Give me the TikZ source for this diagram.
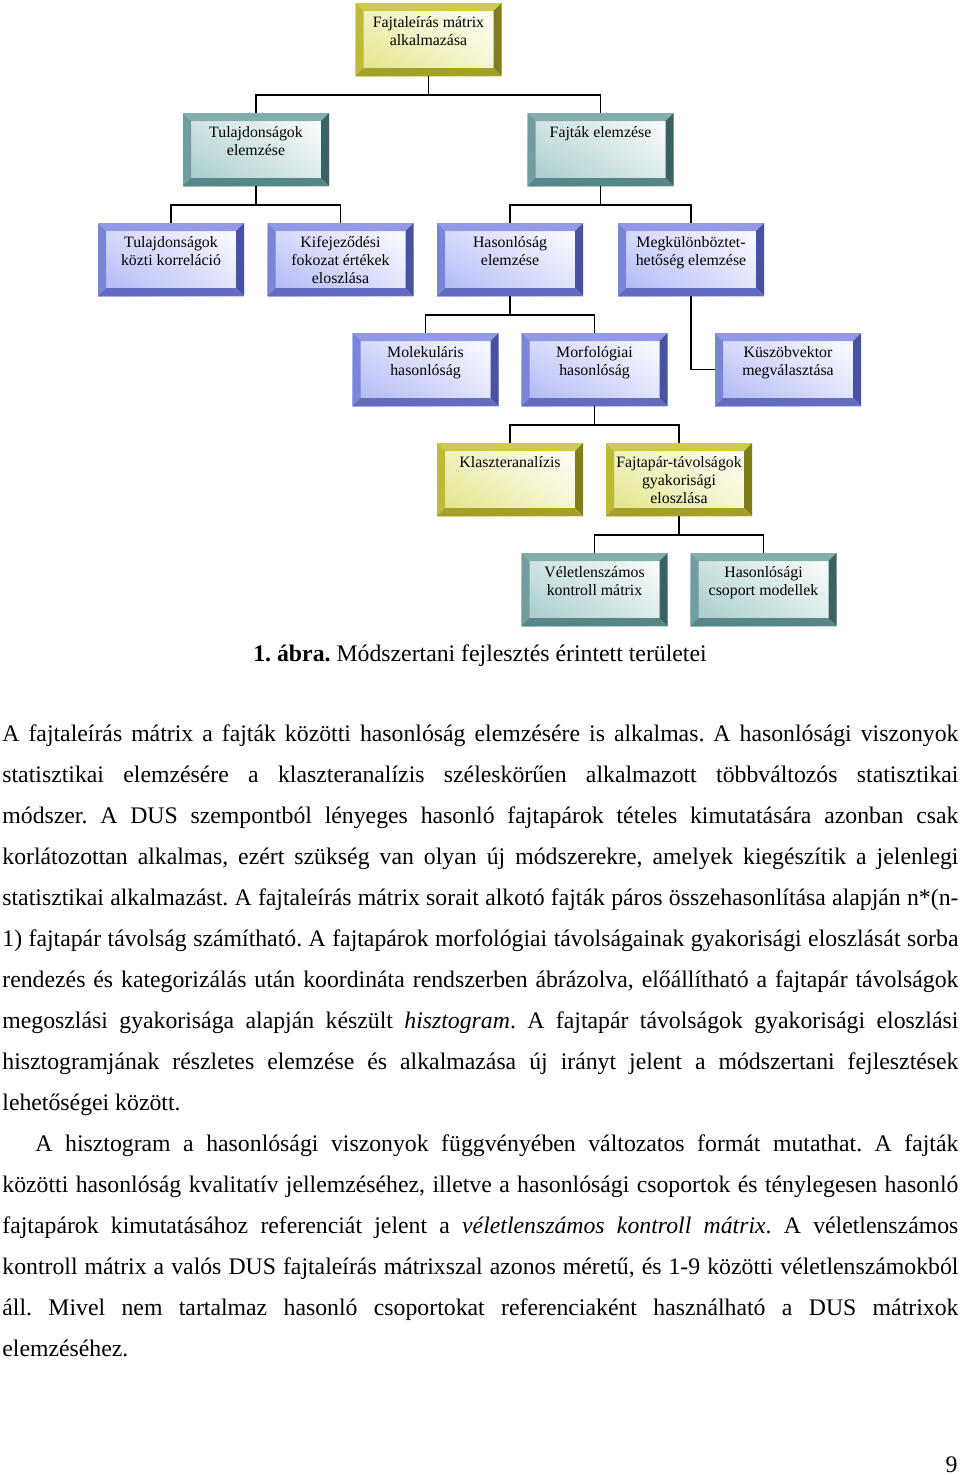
\documentclass[tikz,border=0pt]{standalone}
\usepackage{fontspec}
\setmainfont{Liberation Serif}
\usepackage{xcolor}
\usepackage{tikz}
\usetikzlibrary{shapes, positioning, shadings}
\frenchspacing

% szinek
\definecolor{yelface}{RGB}{226,226,128}
\definecolor{yeltop}{RGB}{206,204,70}
\definecolor{yelleft}{RGB}{188,186,54}
\definecolor{yelright}{RGB}{128,126,24}
\definecolor{yelbot}{RGB}{162,160,38}
\definecolor{tealface}{RGB}{158,198,198}
\definecolor{tealtop}{RGB}{130,174,174}
\definecolor{tealleft}{RGB}{112,158,158}
\definecolor{tealright}{RGB}{58,98,98}
\definecolor{tealbot}{RGB}{88,134,134}
\definecolor{blueface}{RGB}{170,178,245}
\definecolor{bluetop}{RGB}{146,154,232}
\definecolor{blueleft}{RGB}{122,132,216}
\definecolor{blueright}{RGB}{72,82,160}
\definecolor{bluebot}{RGB}{98,108,192}

\newlength{\px}
\setlength{\px}{0.505pt}
\newcommand{\bev}{4.04pt}
\newcommand{\btext}[1]{\parbox[c][57\px][t]{144\px}{\centering\rule{0pt}{8.1pt}#1}}

\tikzset{
	bevbox/.style n args={5}{
		minimum width=146\px, minimum height=73\px, inner sep=0pt, fill=white,
		font=\fontsize{8}{9.3}\selectfont,
		path picture={
			\coordinate (nw) at (path picture bounding box.north west);
			\coordinate (ne) at (path picture bounding box.north east);
			\coordinate (sw) at (path picture bounding box.south west);
			\coordinate (se) at (path picture bounding box.south east);
			\shade[lower left=#1, upper right=white, upper left=#1!45!white, lower right=#1!35!white]
				(nw) rectangle (se);
			\fill[#2] (nw) -- (ne) -- ([shift={(-\bev,-\bev)}]ne) -- ([shift={(\bev,-\bev)}]nw) -- cycle;
			\fill[#3] (nw) -- ([shift={(\bev,-\bev)}]nw) -- ([shift={(\bev,\bev)}]sw) -- (sw) -- cycle;
			\fill[#4] (ne) -- (se) -- ([shift={(-\bev,\bev)}]se) -- ([shift={(-\bev,-\bev)}]ne) -- cycle;
			\fill[#5] (sw) -- ([shift={(\bev,\bev)}]sw) -- ([shift={(-\bev,\bev)}]se) -- (se) -- cycle;
		}},
	yelbox/.style={bevbox={yelface}{yeltop}{yelleft}{yelright}{yelbot}},
	tealbox/.style={bevbox={tealface}{tealtop}{tealleft}{tealright}{tealbot}},
	bluebox/.style={bevbox={blueface}{bluetop}{blueleft}{blueright}{bluebot}},
	conn/.style={line width=1pt},
}

\begin{document}
\begin{tikzpicture}[x=0.505pt, y=-0.505pt]
	\path[fill=white] (0,0) rectangle (960,1475);

	% dobozok
	\node[yelbox]  (top)  at (428.5,39.5)  {\btext{Fajtaleírás mátrix\\alkalmazása}};
	\node[tealbox] (tul)  at (256,149.5)   {\btext{Tulajdonságok\\elemzése}};
	\node[tealbox] (faj)  at (600.5,149.5) {\btext{Fajták elemzése}};
	\node[bluebox] (kor)  at (171,259.5)   {\btext{Tulajdonságok\\közti korreláció}};
	\node[bluebox] (kif)  at (340.5,259.5) {\btext{Kifejeződési\\fokozat értékek\\eloszlása}};
	\node[bluebox] (has)  at (510,259.5)   {\btext{Hasonlóság\\elemzése}};
	\node[bluebox] (megk) at (691,259.5)   {\btext{Megkülönböztet-\\hetőség elemzése}};
	\node[bluebox] (mol)  at (425.5,369.5) {\btext{Molekuláris\\hasonlóság}};
	\node[bluebox] (mor)  at (594.5,369.5) {\btext{Morfológiai\\hasonlóság}};
	\node[bluebox] (kusz) at (788,369.5)   {\btext{Küszöbvektor\\megválasztása}};
	\node[yelbox]  (klas) at (510,479.5)   {\btext{Klaszteranalízis}};
	\node[yelbox]  (fjt)  at (679,479.5)   {\btext{Fajtapár-távolságok\\gyakorisági\\eloszlása}};
	\node[tealbox] (vel)  at (594.5,589.5) {\btext{Véletlenszámos\\kontroll mátrix}};
	\node[tealbox] (hcs)  at (763.5,589.5) {\btext{Hasonlósági\\csoport modellek}};

	% vonalak
	\draw[conn] (top.south) -- ++(0,19) -| (tul.north);
	\draw[conn] (top.south) -- ++(0,19) -| (faj.north);
	\draw[conn] (tul.south) -- ++(0,19) -| (kor.north);
	\draw[conn] (tul.south) -- ++(0,19) -| (kif.north);
	\draw[conn] (faj.south) -- ++(0,19) -| (has.north);
	\draw[conn] (faj.south) -- ++(0,19) -| (megk.north);
	\draw[conn] (has.south) -- ++(0,19) -| (mol.north);
	\draw[conn] (has.south) -- ++(0,19) -| (mor.north);
	\draw[conn] (megk.south) |- (kusz.west);
	\draw[conn] (mor.south) -- ++(0,19) -| (klas.north);
	\draw[conn] (mor.south) -- ++(0,19) -| (fjt.north);
	\draw[conn] (fjt.south) -- ++(0,19) -| (vel.north);
	\draw[conn] (fjt.south) -- ++(0,19) -| (hcs.north);

	% felirat
	\node[anchor=base, inner sep=0pt, font=\fontsize{12}{14}\selectfont] (cap) at (480,661.5)
		{\textbf{1. ábra.} Módszertani fejlesztés érintett területei};

	% szoveg
	\node[anchor=north west, inner sep=0pt, text width=482.8pt, align=justify,
		font=\fontsize{12}{20.7}\selectfont] (body) at (2,712.5) {%
		\tolerance=10000 \hyphenpenalty=10000
		\noindent\strut A fajtaleírás mátrix a fajták közötti hasonlóság elemzésére is alkalmas. A hasonlósági viszonyok\linebreak
		statisztikai elemzésére a klaszteranalízis széleskörűen alkalmazott többváltozós statisztikai\linebreak
		módszer. A DUS szempontból lényeges hasonló fajtapárok tételes kimutatására azonban csak\linebreak
		korlátozottan alkalmas, ezért szükség van olyan új módszerekre, amelyek kiegészítik a jelenlegi\linebreak
		statisztikai alkalmazást. A fajtaleírás mátrix sorait alkotó fajták páros összehasonlítása alapján n*(n-\linebreak
		1) fajtapár távolság számítható. A fajtapárok morfológiai távolságainak gyakorisági eloszlását sorba\linebreak
		rendezés és kategorizálás után koordináta rendszerben ábrázolva, előállítható a fajtapár távolságok\linebreak
		megoszlási gyakorisága alapján készült \textit{hisztogram}. A fajtapár távolságok gyakorisági eloszlási\linebreak
		hisztogramjának részletes elemzése és alkalmazása új irányt jelent a módszertani fejlesztések\linebreak
		lehetőségei között.\par
		\noindent\hspace*{16.7pt}A hisztogram a hasonlósági viszonyok függvényében változatos formát mutathat. A fajták\linebreak
		közötti hasonlóság kvalitatív jellemzéséhez, illetve a hasonlósági csoportok és ténylegesen hasonló\linebreak
		fajtapárok kimutatásához referenciát jelent a \textit{véletlenszámos kontroll mátrix}. A véletlenszámos\linebreak
		kontroll mátrix a valós DUS fajtaleírás mátrixszal azonos méretű, és 1-9 közötti véletlenszámokból\linebreak
		áll. Mivel nem tartalmaz hasonló csoportokat referenciaként használható a DUS mátrixok\linebreak
		elemzéséhez.};

	% oldalszam
	\node[anchor=base east, inner sep=0pt, font=\fontsize{12}{14}\selectfont] (pnum) at (958,1472) {9};
\end{tikzpicture}
\end{document}
